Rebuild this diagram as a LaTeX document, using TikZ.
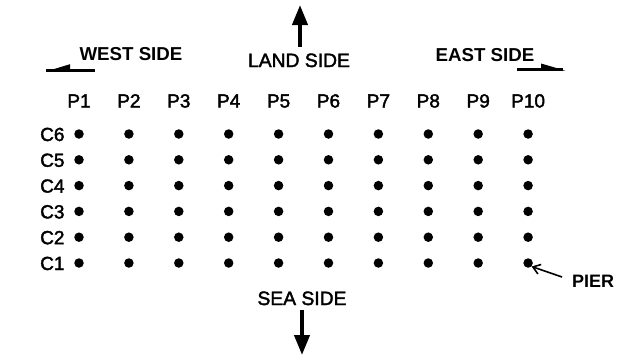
\documentclass[tikz,border=0pt]{standalone}
\usepackage{fontspec}
\setmainfont{Liberation Sans}
\newfontfamily\medfont[FakeBold=2]{Liberation Sans}
\usetikzlibrary{arrows.meta}
\begin{document}
\begin{tikzpicture}[x=1pt,y=-1pt,
  dot/.style={circle,fill=black,inner sep=0pt,minimum size=9.5pt},
  plabel/.style={anchor=base,inner sep=0pt,font=\fontsize{19}{19}\selectfont\medfont},
  clabel/.style={anchor=base west,inner sep=0pt,font=\fontsize{19}{19}\selectfont\medfont},
  sidebold/.style={anchor=base,inner sep=0pt,font=\fontsize{18.7}{18.7}\selectfont\bfseries},
  sidereg/.style={anchor=base,inner sep=0pt,font=\fontsize{19.3}{19.3}\selectfont\medfont},
  bigarrow/.style={line width=4pt,-{Triangle[length=20pt,width=15pt]}},
  flatline/.style={line width=3pt},
  wedge/.style={fill=black,draw=none},
  pierarrow/.style={line width=1.6pt,-{Straight Barb[length=7pt,width=10pt]}}
]
\useasboundingbox (0,0) rectangle (622,356);
\fill[white] (0,0) rectangle (622,356);

% dot grid
\foreach \i in {1,...,10}{
  \pgfmathsetmacro{\xx}{79+49.9*(\i-1)}
  \node[plabel] (p\i) at (\xx,107.5) {P\i};
  \foreach \j in {1,...,6}{
    \pgfmathsetmacro{\yy}{263-25.8*(\j-1)}
    \node[dot] (d\i-\j) at (\xx,\yy) {};
  }
}
\foreach \j in {1,...,6}{
  \pgfmathsetmacro{\yy}{263-25.8*(\j-1)+7}
  \node[clabel] (c\j) at (40,\yy) {C\j};
}

% side labels
\node[sidebold] (west) at (131,60.5) {WEST SIDE};
\node[sidebold] (east) at (485,61) {EAST SIDE};
\node[sidereg] (land) at (299,67) {LAND SIDE};
\node[sidereg] (sea) at (302,305) {SEA SIDE};
\node[anchor=base west,inner sep=0pt,font=\fontsize{18}{18}\selectfont\bfseries] (pier) at (572,287) {PIER};

% west arrow
\coordinate (wS) at (95,70);
\coordinate (wT) at (46,70);
\draw[flatline] (wS) -- (wT);
\fill[wedge] (46,71.5) -- (70,64.2) -- (70,71.5) -- cycle;

% east arrow
\coordinate (eS) at (517,69);
\coordinate (eT) at (563,69);
\draw[flatline] (eS) -- (eT);
\fill[wedge] (565,70.5) -- (541,63.5) -- (541,70.5) -- cycle;

% land and sea arrows
\coordinate (upS) at (300,47);
\coordinate (upT) at (300,5);
\draw[bigarrow] (upS) -- (upT);
\coordinate (dnS) at (302,310);
\coordinate (dnT) at (302,355);
\draw[bigarrow] (dnS) -- (dnT);

% pier arrow
\coordinate (pS) at (562,277);
\draw[pierarrow] (pS) -- (d10-1.south east);
\end{tikzpicture}
\end{document}
